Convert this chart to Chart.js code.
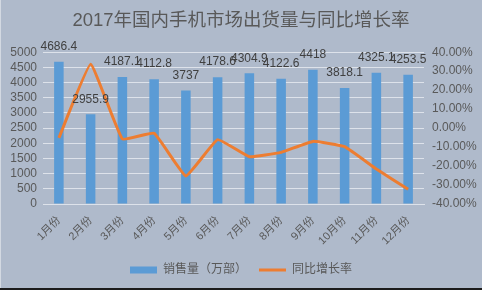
<!DOCTYPE html>
<html>
<head>
<meta charset="utf-8">
<script src="https://cdn.jsdelivr.net/npm/chart.js@4/dist/chart.umd.min.js"></script>
<style>
  html, body { margin: 0; padding: 0; background: #afbacb; }
  #wrap { position: relative; width: 482px; height: 290px; overflow: hidden; }
  #wrap::after { content: ""; position: absolute; left: 0; right: 0; bottom: 0; height: 2px; background: #1c1c1c; }
  #wrap::before { content: ""; position: absolute; left: 0; top: 0; bottom: 0; width: 1px; background: #d3d9e2; }
</style>
</head>
<body>
<div id="wrap"><canvas id="chart" width="482" height="290"></canvas></div>
<script>
// Monthly domestic phone shipments (10k units) and year-on-year growth (%)
const months = ['1月份', '2月份', '3月份', '4月份', '5月份', '6月份', '7月份', '8月份', '9月份', '10月份', '11月份', '12月份'];
const sales = [4686.4, 2955.9, 4187.1, 4112.8, 3737, 4178.6, 4304.9, 4122.6, 4418, 3818.1, 4325.1, 4253.5];
const growth = [-5.2, 33.6, -5.7, -2.7, -25.2, -6.1, -15.1, -12.8, -7.0, -9.8, -21.6, -32.2];

const salesRange = [0, 5000, 500];   // min, max, step
const growthRange = [-40, 40, 10];   // min, max, step (percent)

const seriesNames = ['销售量（万部）', '同比增长率'];
const chartTitle = '2017年国内手机市场出货量与同比增长率';

const FONT = '"Liberation Sans", "Noto Sans CJK SC", sans-serif';
const TEXT = '#595959';

// value labels above each bar
const barValueLabels = {
  id: 'barValueLabels',
  afterDatasetsDraw(chart) {
    const meta = chart.getDatasetMeta(0);
    const ctx = chart.ctx;
    ctx.save();
    ctx.font = '12px ' + FONT;
    ctx.fillStyle = '#404040';
    ctx.textAlign = 'center';
    ctx.textBaseline = 'middle';
    meta.data.forEach((bar, i) => {
      ctx.fillText(String(sales[i]), bar.x, bar.y - 15);
    });
    ctx.restore();
  }
};

new Chart(document.getElementById('chart'), {
  data: {
    labels: months,
    datasets: [
      {
        type: 'bar',
        label: seriesNames[0],
        data: sales,
        yAxisID: 'y',
        backgroundColor: '#5b9bd5',
        borderWidth: 0,
        categoryPercentage: 1,
        barPercentage: 0.3,
        order: 1
      },
      {
        type: 'line',
        label: seriesNames[1],
        data: growth,
        yAxisID: 'y1',
        borderColor: '#ed7d31',
        backgroundColor: '#ed7d31',
        borderWidth: 3,
        pointRadius: 0,
        tension: 0.1,
        order: 0
      }
    ]
  },
  options: {
    responsive: false,
    animation: false,
    layout: { padding: { left: 0, right: 0, top: 0, bottom: 4 } },
    plugins: {
      tooltip: { enabled: false },
      title: {
        display: true,
        text: chartTitle,
        color: TEXT,
        font: { family: FONT, size: 18.5, weight: 'normal' },
        padding: { top: 10, bottom: 20 }
      },
      legend: {
        position: 'bottom',
        labels: {
          color: TEXT,
          font: { family: FONT, size: 12 },
          usePointStyle: true,
          pointStyleWidth: 27,
          boxWidth: 27,
          boxHeight: 7,
          padding: 12,
          sort: (a, b) => a.datasetIndex - b.datasetIndex,
          generateLabels(chart) {
            const items = Chart.defaults.plugins.legend.labels.generateLabels(chart);
            items.forEach(item => {
              if (item.datasetIndex === 0) {
                item.pointStyle = 'rect';
                item.lineWidth = 0;
              } else {
                item.pointStyle = 'line';
                item.lineWidth = 3;
                item.strokeStyle = '#ed7d31';
              }
            });
            return items;
          }
        }
      }
    },
    scales: {
      x: {
        grid: { display: false },
        border: { display: true, color: '#dde2ea' },
        ticks: {
          color: TEXT,
          font: { family: FONT, size: 11 },
          minRotation: 45,
          maxRotation: 45,
          padding: 2
        },
        afterFit(scale) { scale.height = 48; }
      },
      y: {
        position: 'left',
        min: salesRange[0],
        max: salesRange[1],
        ticks: {
          stepSize: salesRange[2],
          autoSkip: false,
          maxTicksLimit: 20,
          color: TEXT,
          font: { family: FONT, size: 12 },
          padding: 6,
          callback: v => String(v)
        },
        grid: { color: '#dde2ea', lineWidth: 1, drawTicks: false },
        border: { display: false },
        afterFit(scale) { scale.width = 43; }
      },
      y1: {
        position: 'right',
        min: growthRange[0],
        max: growthRange[1],
        ticks: {
          stepSize: growthRange[2],
          autoSkip: false,
          maxTicksLimit: 20,
          color: TEXT,
          font: { family: FONT, size: 12 },
          padding: 8,
          callback: v => v.toFixed(2) + '%'
        },
        grid: { display: false, drawTicks: false },
        border: { display: false },
        afterFit(scale) { scale.width = 58; }
      }
    }
  },
  plugins: [barValueLabels]
});
</script>
</body>
</html>
